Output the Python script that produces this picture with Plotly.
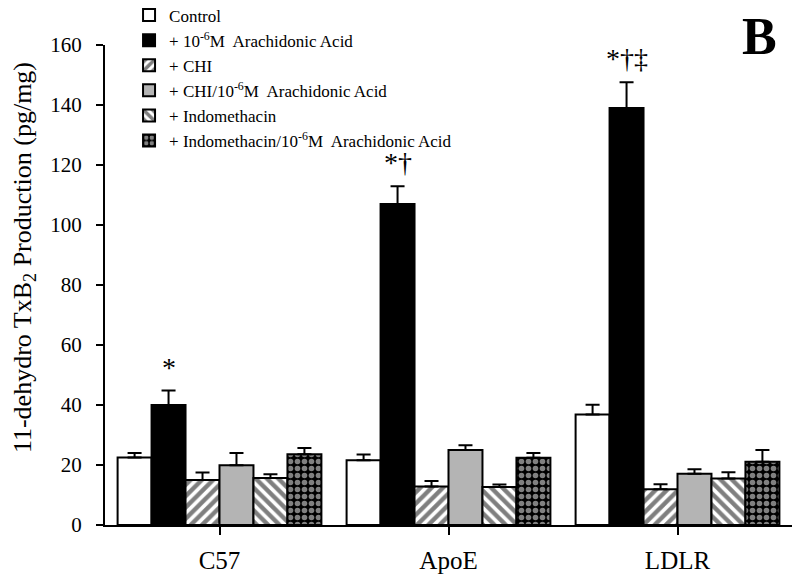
import plotly.graph_objects as go

groups = ["C57", "ApoE", "LDLR"]
series_names = [
    "Control",
    "+ 10<sup>-6</sup>M  Arachidonic Acid",
    "+ CHI",
    "+ CHI/10<sup>-6</sup>M  Arachidonic Acid",
    "+ Indomethacin",
    "+ Indomethacin/10<sup>-6</sup>M  Arachidonic Acid",
]
control = [22.5, 21.6, 36.8]
arachidonic = [40.0, 107.0, 139.0]
chi = [15.0, 12.8, 11.9]
chi_aa = [19.9, 25.0, 17.1]
indo = [15.7, 12.7, 15.5]
indo_aa = [23.6, 22.4, 21.1]

control_err = [1.5, 1.9, 3.3]
arachidonic_err = [4.8, 5.9, 8.6]
chi_err = [2.5, 1.9, 1.7]
chi_aa_err = [4.1, 1.6, 1.5]
indo_err = [1.2, 0.8, 2.1]
indo_aa_err = [2.1, 1.6, 3.9]

sig_labels = ["*", "*†", "*†‡"]

values = [control, arachidonic, chi, chi_aa, indo, indo_aa]
errors = [control_err, arachidonic_err, chi_err, chi_aa_err, indo_err, indo_aa_err]

styles = [
    dict(color="white"),
    dict(color="black"),
    dict(color="white", pattern=dict(shape="/", fgcolor="black", bgcolor="white", size=8, solidity=0.55)),
    dict(color="#b4b4b4"),
    dict(color="white", pattern=dict(shape="\\", fgcolor="black", bgcolor="white", size=8, solidity=0.55)),
    dict(color="black", pattern=dict(shape=".", fgcolor="white", bgcolor="black", size=7, solidity=0.5)),
]

xpos = list(range(len(groups)))
fig = go.Figure()
for name, vals, errs, st in zip(series_names, values, errors, styles):
    fig.add_trace(go.Bar(
        x=xpos, y=vals, name=name,
        marker=dict(line=dict(color="black", width=2), **st),
        error_y=dict(type="data", array=errs, arrayminus=[0] * len(errs), symmetric=False,
                     color="black", thickness=2, width=7),
    ))

bargap = 0.11
n = len(series_names)
bw = (1 - bargap) / n
aa_offset = -(1 - bargap) / 2 + 1.5 * bw
for i, lab in enumerate(sig_labels):
    fig.add_annotation(
        x=xpos[i] + aa_offset, y=arachidonic[i] + arachidonic_err[i],
        text=lab, showarrow=False, yanchor="bottom", yshift=6,
        font=dict(family="Liberation Serif", size=28, color="black"),
    )

fig.add_annotation(
    xref="paper", yref="paper", x=0.981, y=1.017, xanchor="right", yanchor="middle",
    text="<b>B</b>", showarrow=False,
    font=dict(family="Liberation Serif", size=52, color="black"),
)

fig.add_annotation(
    xref="paper", yref="paper", x=-0.118, y=0.558, xanchor="center", yanchor="middle",
    text="11-dehydro TxB<sub>2</sub> Production (pg/mg)", textangle=-90, showarrow=False,
    font=dict(family="Liberation Serif", size=26, color="black"),
)

fig.update_layout(
    width=800, height=584,
    margin=dict(l=97, r=16, t=37, b=67, autoexpand=False),
    paper_bgcolor="white", plot_bgcolor="white",
    barmode="group", bargap=bargap, bargroupgap=0,
    font=dict(family="Liberation Serif", size=19, color="black"),
    showlegend=True,
    legend=dict(x=0.035, y=1.099, xanchor="left", yanchor="top",
                bgcolor="rgba(0,0,0,0)", font=dict(size=17), tracegroupgap=0),
    xaxis=dict(range=[-0.5, 2.5], tickvals=xpos, ticktext=groups,
               showline=True, linecolor="black", linewidth=2,
               ticks="outside", ticklen=8, tickwidth=2, tickcolor="black",
               tickfont=dict(size=25), ticklabelstandoff=4,
               showgrid=False, zeroline=False),
    yaxis=dict(range=[0, 160], dtick=20, showline=True, linecolor="black", linewidth=2,
               ticks="outside", ticklen=7, tickwidth=2, tickcolor="black",
               tickfont=dict(size=21), ticklabelstandoff=10,
               showgrid=False, zeroline=False),
)

fig.write_html("out.html")
